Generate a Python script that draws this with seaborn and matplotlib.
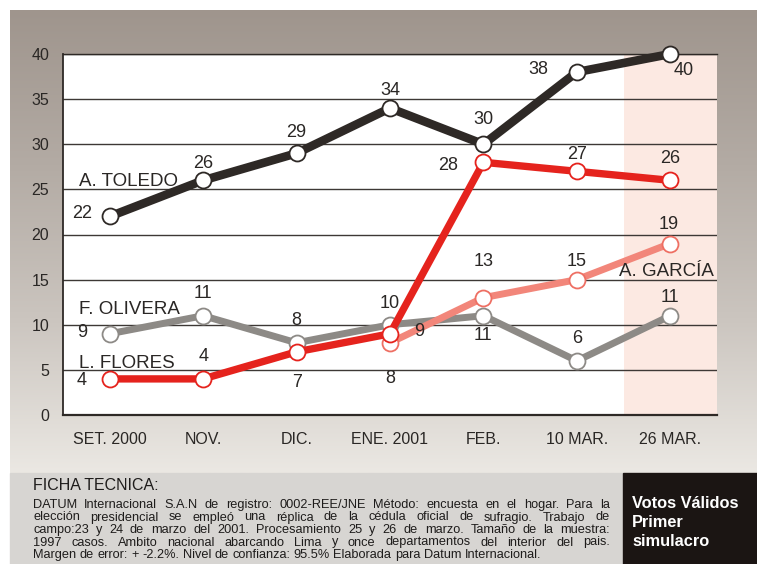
import numpy as np
import pandas as pd
import matplotlib
matplotlib.use('Agg')
import matplotlib.pyplot as plt
import seaborn as sns
from matplotlib.colors import LinearSegmentedColormap
from matplotlib.patches import Rectangle

# Datos del simulacro (votos validos, %)
categories = ["SET. 2000", "NOV.", "DIC.", "ENE. 2001", "FEB.", "10 MAR.", "26 MAR."]
toledo = [22, 26, 29, 34, 30, 38, 40]
flores = [4, 4, 7, 9, 28, 27, 26]
olivera = [9, 11, 8, 10, 11, 6, 11]
garcia = [np.nan, np.nan, np.nan, 8, 13, 15, 19]
y_ticks = [0, 5, 10, 15, 20, 25, 30, 35, 40]

ficha_title = "FICHA TECNICA:"
ficha_lines = [
    "DATUM Internacional S.A.N de registro: 0002-REE/JNE Método: encuesta en el hogar. Para la",
    "elección presidencial se empleó una réplica de la cédula oficial de sufragio. Trabajo de",
    "campo:23 y 24 de marzo del 2001. Procesamiento 25 y 26 de marzo. Tamaño de la muestra:",
    "1997 casos. Ambito nacional abarcando Lima y once departamentos del interior del pais.",
    "Margen de error: + -2.2%. Nivel de confianza: 95.5% Elaborada para Datum Internacional.",
]
box_lines = ["Votos Válidos", "Primer", "simulacro"]

series = {"A. TOLEDO": toledo, "L. FLORES": flores,
          "F. OLIVERA": olivera, "A. GARCÍA": garcia}

rows = []
for name, vals in series.items():
    for i, (cat, v) in enumerate(zip(categories, vals)):
        rows.append({"candidato": name, "pos": i, "fecha": cat, "votos": v})
df = pd.DataFrame(rows).dropna()

# estilo por candidato: color de linea, borde del marcador, grosor, zorder
styles = {
    "F. OLIVERA": ("#8d8a86", "#8d8a86", 5.0, 3),
    "A. GARCÍA": ("#f2867a", "#ee6f63", 5.0, 4),
    "L. FLORES": ("#e5231d", "#e5231d", 5.3, 5),
    "A. TOLEDO": ("#2e2926", "#2e2926", 6.2, 6),
}
# desplazamiento (px) de cada etiqueta de valor respecto a su punto
offsets = {
    "A. TOLEDO": [(-28, 4), (0, 18), (0, 22), (0, 19), (0, 26), (-39, 4), (13, -15)],
    "L. FLORES": [(-28, 0), (0, 24), (0, -29), (29, 4), (-35, -2), (0, 18), (0, 23)],
    "F. OLIVERA": [(-28, 3), (0, 24), (0, 24), (0, 23), (0, -18), (0, 24), (0, 20)],
    "A. GARCÍA": [None, None, None, (0, -34), (0, 38), (0, 20), (-2, 21)],
}
name_pos = {
    "A. TOLEDO": (-0.33, 25.4, "left"),
    "F. OLIVERA": (-0.33, 11.2, "left"),
    "L. FLORES": (-0.33, 5.2, "left"),
    "A. GARCÍA": (6.47, 15.4, "right"),
}

sns.set_style("white")
plt.rcParams['font.family'] = ['Liberation Sans', 'DejaVu Sans']
txt = "#2a2725"

W, H = 757, 564
fig = plt.figure(figsize=(W / 100, H / 100), dpi=100)

# fondo
bg = fig.add_axes([0, 0, 1, 1])
grad = np.linspace(0, 1, 256).reshape(-1, 1)
cmap = LinearSegmentedColormap.from_list("fondo", ["#9f958d", "#b3aba4", "#cbc5bf", "#ebe8e3"])
bg.imshow(grad, extent=[10, W, 473, 10], aspect='auto', cmap=cmap, zorder=1)
bg.add_patch(Rectangle((10, 473), 613, H - 473, color="#d7d5d2", zorder=2))
bg.add_patch(Rectangle((623, 473), W - 623, H - 473, color="#1b1513", zorder=2))
bg.set_xlim(0, W)
bg.set_ylim(H, 0)
bg.axis('off')

# grafico principal
ax = fig.add_axes([63 / W, (H - 415) / H, (717 - 63) / W, (415 - 54) / H])
ax.set_facecolor("white")
ax.axvspan(5.5, 6.5, color="#fce9e2", zorder=0, lw=0)

for name in ["F. OLIVERA", "A. GARCÍA", "L. FLORES", "A. TOLEDO"]:
    col, edge, lw, z = styles[name]
    sub = df[df["candidato"] == name]
    sns.lineplot(data=sub, x="pos", y="votos", ax=ax, color=col, lw=lw,
                 marker="o", markersize=11.5, markerfacecolor="white",
                 markeredgecolor=edge, markeredgewidth=1.3, sort=False,
                 legend=False, zorder=z, clip_on=False,
                 solid_joinstyle="round", solid_capstyle="round")
    vals = series[name]
    for i, v in enumerate(vals):
        if offsets[name][i] is None or np.isnan(v):
            continue
        dx, dy = offsets[name][i]
        ax.annotate(f"{v:.0f}", (i, v), xytext=(dx, dy - 6), textcoords="offset pixels",
                    ha="center", va="baseline", fontsize=13, color=txt, zorder=10)
    x0, y0, ha = name_pos[name]
    ax.text(x0, y0, name, ha=ha, va="baseline", fontsize=13.5, color=txt, zorder=10)

ax.set_xlim(-0.5, 6.5)
ax.set_ylim(0, 40)
ax.set_yticks(y_ticks)
ax.set_xticks(range(len(categories)))
ax.set_xticklabels(categories)
ax.set_xticks(np.arange(0.5, 7, 1), minor=True)
ax.set_xlabel("")
ax.set_ylabel("")
ax.set_axisbelow(True)
ax.yaxis.grid(True, color="#3d3835", lw=1.0)
ax.xaxis.grid(False)
ax.tick_params(axis="y", length=0, pad=10, labelsize=11.5, labelcolor=txt)
ax.tick_params(axis="x", which="major", length=0, pad=12, labelsize=11.5, labelcolor=txt)
ax.tick_params(axis="x", which="minor", direction="in", length=5, width=1.2, color="#2e2926")
for side in ["left", "bottom", "top"]:
    ax.spines[side].set_visible(True)
    ax.spines[side].set_color("#2e2926")
ax.spines["left"].set_linewidth(1.3)
ax.spines["bottom"].set_linewidth(1.6)
ax.spines["top"].set_linewidth(1.0)
ax.spines["right"].set_visible(False)

# ficha tecnica
bg.text(33, 490, ficha_title, fontsize=11.5, color="#1e1c1b", va="baseline", zorder=5)
renderer = fig.canvas.get_renderer()
left, right = 33, 610
for k, line in enumerate(ficha_lines):
    y = 508 + k * 12.5
    words = line.split()
    items = [bg.text(0, y, w, fontsize=9.2, color="#1e1c1b", va="baseline", zorder=5)
             for w in words]
    widths = [t.get_window_extent(renderer).width for t in items]
    if k < len(ficha_lines) - 1:
        gap = (right - left - sum(widths)) / (len(words) - 1)
    else:
        gap = 3.5
    x = left
    for t, w in zip(items, widths):
        t.set_x(x)
        x += w + gap

for k, line in enumerate(box_lines):
    bg.text(632, 508 + k * 19, line, fontsize=11.8, fontweight="bold", color="white",
            va="baseline", zorder=5,
            family=["Liberation Sans Narrow", "Liberation Sans", "DejaVu Sans"])

fig.savefig("out.png", dpi=100)
